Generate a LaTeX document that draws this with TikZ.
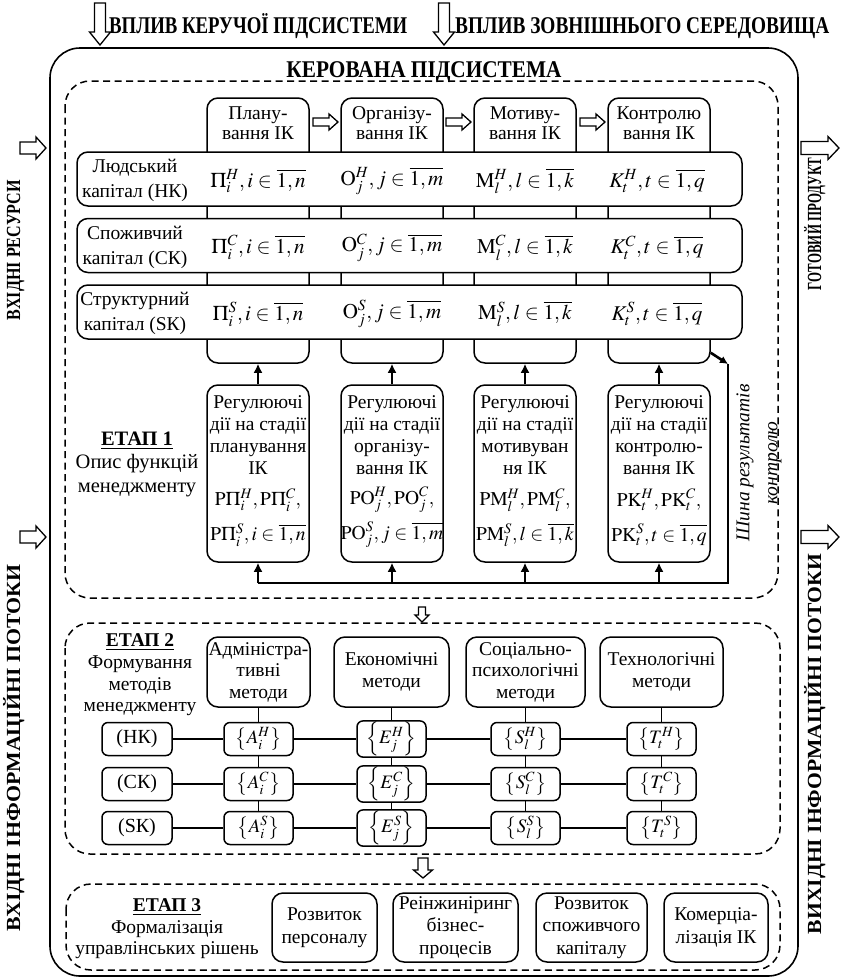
\documentclass[tikz,border=0pt]{standalone}
\usepackage{mathptmx}
\usepackage[no-math]{fontspec}
\setmainfont{Liberation Serif}
\newfontfamily\tnr{Liberation Serif}
\usepackage{graphicx}
\usetikzlibrary{arrows.meta}
\tikzset{
    box/.style={draw, line width=1.5pt, rounded corners=11pt, fill=white, align=center, inner sep=1pt, font=\tnr\fontsize{19.5}{22}\selectfont}, % rounded frame
    colbox/.style={box, minimum width=102pt, minimum height=265pt},
    rowbox/.style={box, minimum width=665pt, minimum height=54pt},
    regbox/.style={box, minimum width=102pt, minimum height=177pt},
    setbox/.style={box, rounded corners=6pt, minimum height=33pt},
    txt/.style={align=center, font=\tnr\fontsize{19.5}{22}\selectfont},
    frm/.style={font=\fontsize{21}{25}\selectfont},
    regfrm/.style={inner sep=0pt, font=\fontsize{19.5}{23}\selectfont},
    head/.style={inner sep=0pt, font=\tnr\fontsize{24}{28}\selectfont\bfseries}, % condensed captions
    stage/.style={draw, line width=1.5pt, dash pattern=on 7pt off 4.5pt, rounded corners=25pt},
    link/.style={line width=1.4pt},
    bus/.style={line width=2.6pt},
    hollow/.style={draw, line width=1.3pt, fill=white, line join=miter}
}
\newcommand{\fitw}[2]{\resizebox{#1}{\height}{#2}}
% block arrow: start, angle, length, half shaft, half head, head length
\newcommand{\harrow}[6]{\draw[hollow, shift={#1}, rotate=#2] (0,-#4) -- (#3-#6,-#4) -- (#3-#6,-#5) -- (#3,0) -- (#3-#6,#5) -- (#3-#6,#4) -- (0,#4) -- cycle;}

\begin{document}
\begin{tikzpicture}[x=1pt, y=-1pt]
    \useasboundingbox (0,0) rectangle (846,978);

    \draw[line width=1.6pt, rounded corners=30pt] (50,48) rectangle (798,976);
    \draw[stage] (65,81) rectangle (778,598);
    \draw[stage] (65,623) rectangle (780,854);
    \draw[stage] (66,884) rectangle (780,970);

    \node[head, anchor=base west] (infl1) at (109,33) {\fitw{298pt}{ВПЛИВ КЕРУЧОЇ ПІДСИСТЕМИ}};
    \node[head, anchor=base west] (infl2) at (455,33) {\fitw{374pt}{ВПЛИВ ЗОВНІШНЬОГО СЕРЕДОВИЩА}};
    \node[head, anchor=base] (title) at (424,77) {\fitw{275pt}{КЕРОВАНА ПІДСИСТЕМА}};
    \node[head, font=\tnr\fontsize{20}{24}\selectfont\bfseries, rotate=90, anchor=base] (in1) at (20,250) {\fitw{140pt}{ВХІДНІ РЕСУРСИ}};
    \node[head, font=\tnr\fontsize{20}{24}\selectfont\bfseries, rotate=90, anchor=base] (in2) at (20,748) {\fitw{367pt}{ВХІДНІ ІНФОРМАЦІЙНІ ПОТОКИ}};
    \node[head, font=\tnr\fontsize{20}{24}\selectfont\bfseries, rotate=90, anchor=base] (out1) at (821,224) {\fitw{132pt}{ГОТОВИЙ ПРОДУКТ}};
    \node[head, font=\tnr\fontsize{20}{24}\selectfont\bfseries, rotate=90, anchor=base] (out2) at (821,744) {\fitw{380pt}{ВИХІДНІ ІНФОРМАЦІЙНІ ПОТОКИ}};

    \harrow{(100,3)}{-90}{42}{5.5}{10.5}{13}
    \harrow{(444,3)}{-90}{42}{5.5}{10.5}{13}
    \harrow{(20,148)}{0}{26}{6}{11}{10}
    \harrow{(20,537)}{0}{26}{6}{11}{10}
    \harrow{(801,148)}{0}{38}{6.5}{11.5}{11}
    \harrow{(801,537)}{0}{38}{6.5}{11.5}{11}

    % stage 1
    \foreach \n/\x/\lbl in {1/258/{Плану-\\вання ІК}, 2/392/{Організу-\\вання ІК}, 3/525/{Мотиву-\\вання ІК}, 4/659/{Контролю\\вання ІК}} {
        \node[colbox] (c\n) at (\x,230.5) {};
        \node[txt, font=\tnr\fontsize{19.5}{20.5}\selectfont] (ct\n) at (\x,123) {\lbl};
    }
    \foreach \x in {313,446,580} {\harrow{(\x,122)}{0}{25}{4}{8}{9}}

    \foreach \r/\y/\lbl/\hc in {1/179/{Людський\\капітал (НК)}/H, 2/245.5/{Споживчий\\капітал (СК)}/C, 3/312/{Структурний\\капітал (SК)}/S} {
        \node[rowbox] (row\r) at (409.5,\y) {};
        \node[txt, font=\tnr\fontsize{19.5}{25}\selectfont] (rl\r) at (135,\y+1.5) {\lbl};
        \node[frm] (f\r1) at (258,\y+2) {$\Pi_i^{\hc}, i\in\overline{1,n}$};
        \node[frm] (f\r2) at (392,\y+2) {$\mathrm{O}_j^{\hc}, j\in\overline{1,m}$};
        \node[frm] (f\r3) at (525,\y+2) {$\mathrm{M}_l^{\hc}, l\in\overline{1,k}$};
        \node[frm] (f\r4) at (657,\y+2) {$K_t^{\hc}, t\in\overline{1,q}$};
    }

    \foreach \n/\x/\lbl/\fa/\fb in {1/258/{планування\\ІК}/{\mathrm{P\Pi}_i^H,\mathrm{P\Pi}_i^C,}/{\mathrm{P\Pi}_i^S, i\in\overline{1,n}},
            2/392/{організу-\\вання ІК}/{\mathrm{PO}_j^H,\mathrm{PO}_j^C,}/{\mathrm{PO}_j^S, j\in\overline{1,m}},
            3/525/{мотивуван\\ня ІК}/{\mathrm{PM}_l^H,\mathrm{PM}_l^C,}/{\mathrm{PM}_l^S, l\in\overline{1,k}},
            4/659/{контролю-\\вання ІК}/{\mathrm{PK}_t^H,\mathrm{PK}_t^C,}/{\mathrm{PK}_t^S, t\in\overline{1,q}}} {
        \node[regbox] (r\n) at (\x,473.5) {};
        \node[txt] (rt\n) at (\x,435) {Регулюючі\\дії на стадії\\\lbl};
        \node[regfrm] (ra\n) at (\x,500) {$\fa$};
        \node[regfrm] (rb\n) at (\x,535) {$\fb$};
    }

    \node[txt, font=\tnr\fontsize{20.5}{23.5}\selectfont] (st1) at (137,464) {\textbf{\underline{ЕТАП 1}}\\Опис функцій\\менеджменту};
    \node[txt, rotate=90, font=\tnr\fontsize{19.5}{28}\selectfont\itshape] (busname) at (759,463) {Шина результатів\\контролю};

    \coordinate (bend) at (728,364);
    \coordinate (busend) at (728,583);
    \foreach \n in {1,...,4} {
        \draw[bus, -{Latex[length=9pt,width=9pt]}] (r\n.north) -- (c\n.south);
        \draw[bus, -{Latex[length=9pt,width=9pt]}] (r\n.south |- busend) -- (r\n.south);
    }
    \draw[bus, -{Latex[length=8pt,width=8pt]}] ([yshift=11pt]c4.south east) -- (bend);
    \draw[bus] (bend) -- (busend) -- (r1.south |- busend);

    \harrow{(422,607)}{-90}{15}{3.5}{7}{7}

    % stage 2
    \node[txt, font=\tnr\fontsize{19.5}{21.7}\selectfont] (st2) at (140,675) {\textbf{\underline{ЕТАП 2}}\\Формування\\методів\\менеджменту};
    \foreach \n/\x/\w/\lbl in {1/258.5/103/{Адміністра-\\тивні\\методи}, 2/391.5/115/{Економічні\\методи}, 3/525.5/119/{Соціально-\\психологічні\\методи}, 4/661.5/123/{Технологічні\\методи}} {
        \node[box, minimum width=\w pt, minimum height=70pt, font=\tnr\fontsize{19.5}{21.5}\selectfont] (m\n) at (\x,672) {\lbl};
    }
    \foreach \r/\y/\lbl in {1/739/{(НК)}, 2/784/{(СК)}, 3/828/{(SК)}} {
        \node[setbox, minimum width=70pt, font=\tnr\fontsize{20}{22}\selectfont] (cap\r) at (137,\y) {\lbl};
    }
    \foreach \c/\x/\ml/\mi in {1/258.5/A/i, 2/391.5/E/j, 3/525.5/S/l, 4/661.5/T/t} {
        \foreach \r/\y/\mh in {1/739/H, 2/784/C, 3/828/S} {
            \node[setbox, minimum width=69pt, font=\fontsize{19}{22}\selectfont] (st\r\c) at (\x,\y) {$\left\{\ml_\mi^\mh\right\}$};
        }
    }
    \foreach \r in {1,2,3} {\draw[link] (cap\r) -- (st\r1) -- (st\r2) -- (st\r3) -- (st\r4);}
    \foreach \c in {1,...,4} {\draw[link] (m\c) -- (st1\c) -- (st2\c) -- (st3\c);}

    \harrow{(423,858)}{-90}{20}{5}{9.5}{8}

    % stage 3
    \node[txt, font=\tnr\fontsize{19.5}{21.5}\selectfont] (st3) at (167,929) {\textbf{\underline{ЕТАП 3}}\\Формалізація\\управлінських рішень};
    \foreach \n/\x/\w/\lbl in {1/324.5/105/{Розвиток\\персоналу}, 2/455.5/125/{Реінжиніринг\\бізнес-\\процесів}, 3/591.5/111/{Розвиток\\споживчого\\капіталу}, 4/716/104/{Комерціа-\\лізація ІК}} {
        \node[box, minimum width=\w pt, minimum height=69pt, font=\tnr\fontsize{19.5}{22.5}\selectfont] (d\n) at (\x,927.5) {\lbl};
    }
\end{tikzpicture}
\end{document}
